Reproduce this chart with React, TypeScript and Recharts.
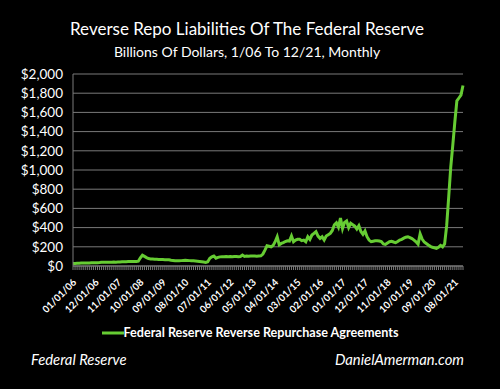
import React from 'react';
import { LineChart, Line, XAxis, YAxis, CartesianGrid, Legend } from 'recharts';

const FONT = 'Lato, "Open Sans", sans-serif';
const GREEN = '#66cc33';
const GRID = '#7a7a7a';

const years = [2006, 2007, 2008, 2009, 2010, 2011, 2012, 2013, 2014, 2015, 2016, 2017, 2018, 2019, 2020, 2021];

const v2006 = [26, 27, 28, 29, 30, 31, 30, 31, 32, 33, 33, 34];
const v2007 = [35, 36, 38, 40, 40, 38, 39, 40, 41, 40, 41, 42];
const v2008 = [43, 44, 45, 46, 47, 46, 47, 48, 50, 85, 112, 100];
const v2009 = [88, 78, 74, 72, 70, 70, 68, 68, 67, 66, 66, 65];
const v2010 = [60, 58, 55, 54, 55, 56, 58, 60, 58, 56, 55, 54];
const v2011 = [52, 50, 48, 45, 42, 38, 45, 80, 95, 104, 82, 90];
const v2012 = [95, 97, 96, 98, 97, 99, 96, 98, 100, 97, 99, 114];
const v2013 = [100, 103, 102, 104, 103, 105, 102, 104, 106, 125, 165, 210];
const v2014 = [205, 200, 215, 253, 305, 220, 235, 243, 255, 263, 260, 312];
const v2015 = [253, 270, 278, 278, 264, 270, 253, 305, 278, 323, 340, 358];
const v2016 = [312, 288, 305, 271, 312, 325, 340, 370, 430, 450, 405, 500];
const v2017 = [390, 455, 470, 400, 445, 430, 415, 385, 420, 360, 330, 365];
const v2018 = [305, 270, 253, 258, 262, 264, 260, 255, 230, 225, 240, 253];
const v2019 = [258, 250, 243, 255, 270, 278, 290, 300, 305, 295, 285, 270];
const v2020 = [253, 228, 335, 280, 250, 235, 219, 205, 195, 190, 184, 195];
const v2021 = [215, 200, 230, 420, 720, 1030, 1260, 1500, 1720, 1750, 1780, 1880];

const yearValues = [v2006, v2007, v2008, v2009, v2010, v2011, v2012, v2013, v2014, v2015, v2016, v2017, v2018, v2019, v2020, v2021];

const yTicks = [0, 200, 400, 600, 800, 1000, 1200, 1400, 1600, 1800, 2000];
const LABEL_EVERY = 11;

const SERIES_NAME = 'Federal Reserve Reverse Repurchase Agreements';

const pad = (n: number) => (n < 10 ? '0' + n : String(n));

const data: { label: string; value: number }[] = [];
years.forEach((yr, yi) => {
  yearValues[yi].forEach((v, mi) => {
    data.push({ label: `${pad(mi + 1)}/01/${pad(yr % 100)}`, value: v });
  });
});

const fmtDollar = (v: number) => '$' + v.toLocaleString('en-US');

const XTick = (props: any) => {
  const { x, y, payload, index } = props;
  const i = typeof index === 'number' ? index : payload.index;
  if (i % LABEL_EVERY !== 0) return <g />;
  const ax = x + 4;
  const ay = y + 13;
  return (
    <text
      x={ax}
      y={ay}
      transform={`rotate(-45, ${ax}, ${ay})`}
      textAnchor="end"
      fill="#ffffff"
      fontSize={9.8}
      fontWeight={700}
      fontFamily={FONT}
    >
      {payload.value}
    </text>
  );
};

const renderLegend = (props: any) => {
  const item = (props.payload && props.payload[0]) || { value: SERIES_NAME, color: GREEN };
  return (
    <div style={{ display: 'flex', alignItems: 'center', justifyContent: 'center' }}>
      <svg width={22} height={6} style={{ display: 'block' }}>
        <line x1={0} y1={3} x2={22} y2={3} stroke={item.color || GREEN} strokeWidth={3} />
      </svg>
      <span style={{ color: '#fff', fontWeight: 700, fontSize: 12.6, fontFamily: FONT, whiteSpace: 'pre' }}>
        {item.value}
      </span>
    </div>
  );
};

export default function App() {
  return (
    <div
      style={{
        position: 'absolute',
        left: 0,
        top: 0,
        width: 500,
        height: 389,
        background: '#000',
        overflow: 'hidden',
        fontFamily: FONT,
      }}
    >
      <div
        style={{
          position: 'absolute',
          left: 0,
          top: 18,
          width: 494,
          textAlign: 'center',
          color: '#fff',
          fontSize: 17,
        }}
      >
        Reverse Repo Liabilities Of The Federal Reserve
      </div>
      <div
        style={{
          position: 'absolute',
          left: 0,
          top: 43,
          width: 494,
          textAlign: 'center',
          color: '#fff',
          fontSize: 14,
        }}
      >
        Billions Of Dollars, 1/06 To 12/21, Monthly
      </div>
      <LineChart
        width={500}
        height={389}
        data={data}
        margin={{ top: 74, right: 37, bottom: 66, left: 0 }}
      >
        <CartesianGrid vertical={false} stroke={GRID} strokeWidth={1} />
        <XAxis
          dataKey="label"
          interval={0}
          height={57}
          tickSize={4}
          tickMargin={0}
          axisLine={{ stroke: GRID, strokeWidth: 1 }}
          tickLine={{ stroke: GRID, strokeWidth: 1 }}
          tick={<XTick />}
        />
        <YAxis
          width={73}
          domain={[0, 2000]}
          ticks={yTicks}
          interval={0}
          tickFormatter={fmtDollar}
          axisLine={{ stroke: GRID, strokeWidth: 1 }}
          tickLine={false}
          tickSize={0}
          tickMargin={10}
          tick={{ fill: '#fff', fontSize: 13.5, fontFamily: FONT }}
        />
        <Legend
          layout="horizontal"
          align="center"
          verticalAlign="middle"
          wrapperStyle={{ top: 325, left: 0, width: 500 }}
          content={renderLegend}
        />
        <Line
          type="linear"
          dataKey="value"
          name={SERIES_NAME}
          stroke={GREEN}
          strokeWidth={3}
          dot={false}
          activeDot={false}
          isAnimationActive={false}
        />
      </LineChart>
      <div
        style={{
          position: 'absolute',
          left: 31,
          top: 350,
          color: '#fff',
          fontSize: 14.8,
          fontStyle: 'italic',
        }}
      >
        Federal Reserve
      </div>
      <div
        style={{
          position: 'absolute',
          right: 36,
          top: 350,
          color: '#fff',
          fontSize: 14.8,
          fontStyle: 'italic',
        }}
      >
        DanielAmerman.com
      </div>
    </div>
  );
}
